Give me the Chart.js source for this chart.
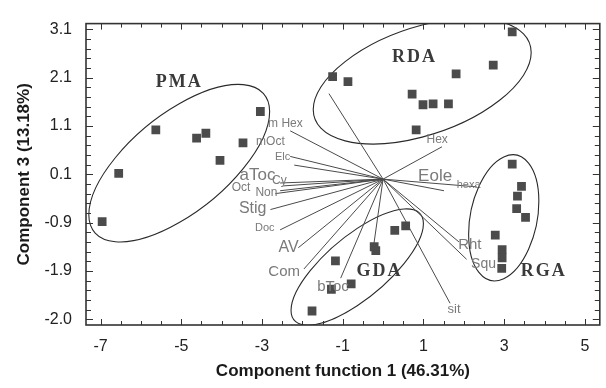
<!DOCTYPE html>
<html><head><meta charset="utf-8">
<script src="https://cdn.jsdelivr.net/npm/chart.js@4/dist/chart.umd.min.js"></script>
<style>html,body{margin:0;padding:0;background:#fff}#wrap{width:606px;height:388px}</style>
</head><body><div id="wrap"><canvas id="c" width="606" height="388"></canvas></div>
<script>
// ---- sample scores (component 1, component 3) ----
const pmaX = [-5.63,-4.62,-4.39,-4.04,-3.47,-3.04,-6.55,-6.96];
const pmaY = [1.02,0.85,0.95,0.39,0.75,1.40,0.12,-0.88];
const rdaX = [-1.25,-0.87,0.72,0.99,1.24,1.62,0.82,1.81,2.73,3.20];
const rdaY = [2.12,2.02,1.76,1.54,1.56,1.56,1.02,2.18,2.36,3.05];
const rgaX = [3.20,3.43,3.33,3.31,3.53,2.78,2.95,2.95,2.94];
const rgaY = [0.31,-0.15,-0.35,-0.61,-0.79,-1.16,-1.46,-1.63,-1.85];
const gdaX = [0.29,0.56,-0.22,-0.18,-1.18,-0.79,-1.28,-1.76];
const gdaY = [-1.06,-0.97,-1.40,-1.48,-1.69,-2.17,-2.28,-2.73];

// ---- variable loadings (vector tips) ----
const vecNames = ['m Hex','mOct','Elc','aToc','Cy','Oct','Non','Stig','Doc','AV','Com','bToc','Hex','Eole','hexa','Rht','Squ','sit','',''];
const vecX = [-2.30,-2.30,-2.20,-2.55,-2.47,-2.67,-2.55,-2.79,-2.55,-2.10,-1.96,-1.05,1.46,1.51,2.32,1.88,2.07,1.66,-1.34,-0.24];
const vecY = [1.00,0.47,0.29,-0.08,-0.14,-0.30,-0.24,-0.63,-1.05,-1.42,-1.86,-2.05,0.67,-0.24,-0.16,-1.30,-1.66,-2.57,1.77,-1.42];
// label anchors for the loading names
const vecLabelX = [-2.42,-2.79,-2.49,-3.11,-2.57,-3.52,-2.89,-3.23,-2.93,-2.34,-2.45,-1.24,1.34,1.29,2.12,2.15,2.49,1.76];
const vecLabelY = [1.14,0.77,0.45,0.08,-0.04,-0.18,-0.28,-0.61,-1.01,-1.42,-1.92,-2.24,0.81,0.06,-0.12,-1.37,-1.76,-2.70];
const vecLabelSize = [12,12,11,17,12,12,12,16,11,16,15,15,12,17,11,15,14,13];

// ---- group ellipses: centre and two conjugate semi-axes (data units) ----
const groupNames = ['PMA','RDA','GDA','RGA'];
const groupLabelX = [-5.05,0.78,-0.09,3.98];
const groupLabelY = [2.01,2.52,-1.90,-1.90];
const ellCx = [-5.05,0.97,-0.64,2.99];
const ellCy = [0.33,2.03,-1.82,-0.80];
const ellAx = [2.24,2.70,1.64,0.87];
const ellAy = [1.07,0.59,0.90,0.34];
const ellBx = [0,0,0,0];
const ellBy = [-1.23,-1.16,-0.80,-1.26];

// ---- axis ticks ----
const xTickValues = [-7,-5,-3,-1,1,3,5];
const yTickValues = [3.1,2.1,1.1,0.1,-0.9,-1.9,-2.9];
const yTickLabels = ['3.1','2.1','1.1','0.1','-0.9','-1.9','-2.0'];

const pts = (xs, ys) => xs.map((x, i) => ({x, y: ys[i]}));
const markStyle = {type:'scatter', pointStyle:'rect', pointRadius:6.2, pointBackgroundColor:'#4b4b4b', pointBorderWidth:0, order:0};

const datasets = [
  {...markStyle, data: pts(pmaX, pmaY)},
  {...markStyle, data: pts(rdaX, rdaY)},
  {...markStyle, data: pts(rgaX, rgaY)},
  {...markStyle, data: pts(gdaX, gdaY)},
];
vecX.forEach((vx, i) => {
  datasets.push({type:'line', data:[{x:0,y:0},{x:vx,y:vecY[i]}], borderColor:'#4a4a4a', borderWidth:1,
    pointRadius:0, fill:false, order:2});
});

const frame = {
  id:'frame',
  beforeDatasetsDraw(chart){
    const {ctx, chartArea:a, scales:{x, y}} = chart;
    ctx.save();
    ctx.beginPath(); ctx.rect(a.left, a.top, a.right-a.left, a.bottom-a.top); ctx.clip();
    ctx.strokeStyle = '#2a2a2a'; ctx.lineWidth = 1.1; ctx.setLineDash([]);
    for (let i = 0; i < ellCx.length; i++) {
      const cx = x.getPixelForValue(ellCx[i]), cy = y.getPixelForValue(ellCy[i]);
      const ax = x.getPixelForValue(ellCx[i] + ellAx[i]) - cx, ay = y.getPixelForValue(ellCy[i] + ellAy[i]) - cy;
      const bx = x.getPixelForValue(ellCx[i] + ellBx[i]) - cx, by = y.getPixelForValue(ellCy[i] + ellBy[i]) - cy;
      ctx.save(); ctx.beginPath();
      ctx.transform(ax, ay, bx, by, cx, cy);
      ctx.arc(0, 0, 1, 0, Math.PI*2);
      ctx.restore();
      ctx.stroke();
    }
    ctx.restore();
  },
  afterDraw(chart){
    const {ctx, chartArea:a, scales:{x, y}} = chart;
    ctx.save();
    // loading labels
    ctx.fillStyle = '#7a7a7a'; ctx.textAlign = 'center'; ctx.textBaseline = 'middle';
    vecLabelX.forEach((lx, i) => {
      ctx.font = vecLabelSize[i] + 'px "Liberation Sans", Arial, sans-serif';
      ctx.fillText(vecNames[i], x.getPixelForValue(lx), y.getPixelForValue(vecLabelY[i]));
    });
    // group labels
    ctx.fillStyle = '#3a3a3a';
    ctx.font = 'bold 18px "Liberation Serif", "DejaVu Serif", serif';
    if ('letterSpacing' in ctx) ctx.letterSpacing = '2px';
    groupNames.forEach((g, i) => ctx.fillText(g, x.getPixelForValue(groupLabelX[i]), y.getPixelForValue(groupLabelY[i])));
    if ('letterSpacing' in ctx) ctx.letterSpacing = '0px';
    // frame
    ctx.strokeStyle = '#333'; ctx.lineWidth = 1.6;
    ctx.strokeRect(a.left, a.top, a.right - a.left, a.bottom - a.top);
    // inward tick marks
    ctx.lineWidth = 1;
    for (let k = -14; k <= 10; k++) {
      const v = k / 2;
      if (v < x.min || v > x.max) continue;
      const major = k % 4 === 2 || k % 4 === -2;
      const len = major ? 6 : 4;
      const px = Math.round(x.getPixelForValue(v)) + 0.5;
      ctx.beginPath();
      ctx.moveTo(px, a.bottom); ctx.lineTo(px, a.bottom - len);
      ctx.moveTo(px, a.top); ctx.lineTo(px, a.top + len);
      ctx.stroke();
    }
    for (let k = 0; k <= 30; k++) {
      const v = 3.1 - 0.2 * k;
      if (v < y.min || v > y.max) continue;
      const len = k % 5 === 0 ? 7 : 5;
      const py = Math.round(y.getPixelForValue(v)) + 0.5;
      ctx.beginPath();
      ctx.moveTo(a.left, py); ctx.lineTo(a.left + len, py);
      ctx.moveTo(a.right, py); ctx.lineTo(a.right - len, py);
      ctx.stroke();
    }
    ctx.restore();
  }
};

new Chart(document.getElementById('c'), {
  data: {datasets},
  plugins: [frame],
  options: {
    responsive:false, animation:false, events:[],
    layout:{padding:{top:17, right:2, left:0, bottom:0}},
    plugins:{legend:{display:false}, tooltip:{enabled:false}},
    scales:{
      x:{type:'linear', min:-7.36, max:5.37,
        afterBuildTicks: s => { s.ticks = xTickValues.map(v => ({value:v})); },
        afterFit: s => { s.height = 63; },
        grid:{display:false, drawTicks:false}, border:{display:false},
        ticks:{padding:12, color:'#222', autoSkip:false, maxRotation:0,
          font:{family:'"Liberation Sans", Arial, sans-serif', size:16},
          callback: v => String(v)},
        title:{display:true, text:'Component function 1 (46.31%)', color:'#1a1a1a',
          font:{family:'"Liberation Sans", Arial, sans-serif', size:17, weight:'bold'}, padding:{top:0, bottom:6}}
      },
      y:{type:'linear', min:-3.02, max:3.22,
        afterBuildTicks: s => { s.ticks = yTickValues.map(v => ({value:v})); },
        afterFit: s => { s.width = 86; },
        grid:{display:false, drawTicks:false}, border:{display:false},
        ticks:{padding:14, color:'#222', autoSkip:false,
          font:{family:'"Liberation Sans", Arial, sans-serif', size:16},
          callback: v => { const i = yTickValues.findIndex(t => Math.abs(t - v) < 1e-6); return i >= 0 ? yTickLabels[i] : ''; }},
        title:{display:true, text:'Component 3 (13.18%)', color:'#1a1a1a',
          font:{family:'"Liberation Sans", Arial, sans-serif', size:17, weight:'bold'}, padding:{top:14, bottom:0}}
      }
    }
  }
});
</script></body></html>
